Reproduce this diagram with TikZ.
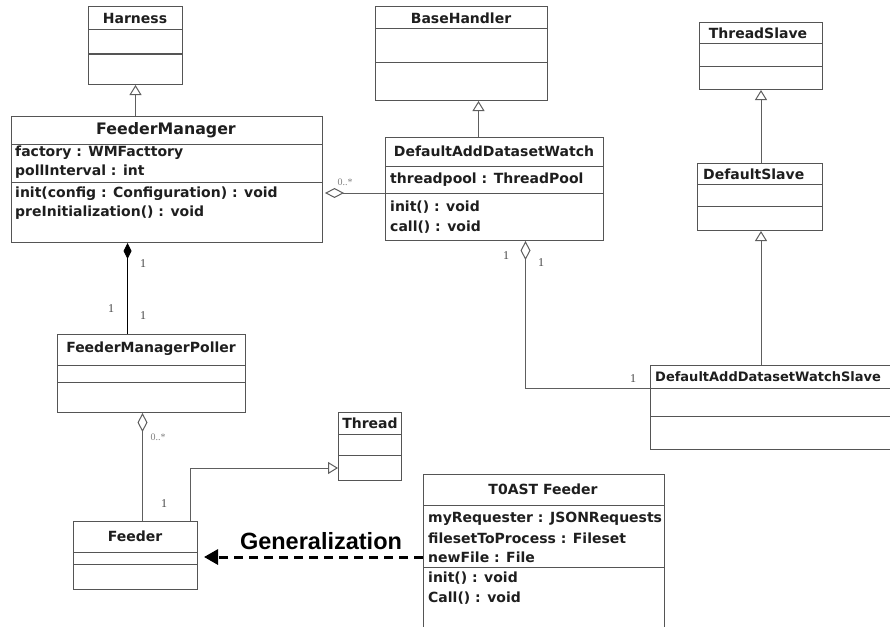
\documentclass[tikz,border=0pt]{standalone}
\usepackage{fontspec}
\setmainfont{DejaVu Sans}
\newfontfamily\labelfont{Liberation Sans}
\newfontfamily\multfont{Liberation Serif}
\usetikzlibrary{arrows.meta,calc}

\definecolor{boxgray}{HTML}{555555}
\definecolor{linegray}{HTML}{5E5E5E}
\definecolor{textdark}{HTML}{1E1E1E}
\definecolor{multgray}{HTML}{444444}

\tikzset{
  cls/.style={draw=boxgray, line width=1pt, fill=white, inner sep=0pt},
  sep/.style={draw=boxgray, line width=1pt},
  ttl/.style={font=\bfseries\fontsize{14}{16}\selectfont, text=textdark, inner sep=0pt},
  mem/.style={anchor=west, font=\bfseries\fontsize{14}{16}\selectfont, text=textdark, inner sep=0pt},
  mult/.style={font=\multfont\fontsize{12}{14}\selectfont, text=multgray, inner sep=0pt},
  many/.style={font=\multfont\fontsize{10}{11}\selectfont, text=gray, inner sep=0pt},
  gen/.style={draw=linegray, line width=1pt, -{Triangle[open, length=10pt, width=12pt, fill=white]}},
  agg/.style={draw=linegray, line width=1pt, {Diamond[open, length=19pt, width=10pt, fill=white]}-},
  comp/.style={draw=black, line width=1pt, {Diamond[length=16pt, width=8pt]}-},
  dep/.style={draw=black, line width=3pt, dash pattern=on 9pt off 6pt, -{Triangle[length=14pt, width=15pt]}, shorten >=6pt}
}

% class box: name, x, y, width, height, first and second divider below the top
\newcommand{\umlclass}[7]{%
  \node[cls, anchor=north west, minimum width=#4pt, minimum height=#5pt] (#1) at (#2,#3) {};
  \coordinate (#1-s1) at ([yshift=-#6pt]#1.north west);
  \coordinate (#1-s2) at ([yshift=-#7pt]#1.north west);
  \draw[sep] (#1-s1) -- (#1-s1 -| #1.east);
  \draw[sep] (#1-s2) -- (#1-s2 -| #1.east);
}

\begin{document}
\begin{tikzpicture}[x=1pt, y=-1pt]
  \useasboundingbox (0,0) rectangle (890,626);
  \clip (0,0) rectangle (890,626);

  % classes
  \umlclass{harness}{88}{6}{94}{78}{24}{48}
  \umlclass{fm}{11}{116}{311}{126}{28}{66}
  \umlclass{base}{375}{6}{172}{94}{23}{56}
  \umlclass{daw}{385}{137}{218}{103}{29}{56}
  \umlclass{tslave}{699}{22}{123}{67}{22}{44}
  \umlclass{dslave}{697}{163}{125}{67}{21}{43}
  \umlclass{dawslave}{650}{365}{260}{84}{23}{51}
  \umlclass{poller}{57}{334}{188}{78}{31}{48}
  \umlclass{feeder}{73}{521}{124}{68}{31}{43}
  \umlclass{thread}{338}{412}{63}{68}{22}{43}
  \umlclass{toast}{423}{474}{241}{172}{31}{93}

  % titles
  \node[ttl] (harnessT) at (135,18) {Harness};
  \node[ttl, font=\bfseries\fontsize{15.8}{18}\selectfont] (fmT) at (166,130) {FeederManager};
  \node[ttl] (baseT) at (461,18) {BaseHandler};
  \node[ttl] (dawT) at (494,151) {DefaultAddDatasetWatch};
  \node[ttl] (tslaveT) at (758,33) {ThreadSlave};
  \node[ttl, anchor=west] (dslaveT) at (703,174) {DefaultSlave};
  \node[ttl, anchor=west, font=\bfseries\fontsize{13}{15}\selectfont] (dawslaveT) at (655,377) {DefaultAddDatasetWatchSlave};
  \node[ttl] (pollerT) at (151,349) {FeederManagerPoller};
  \node[ttl] (feederT) at (135,536) {Feeder};
  \node[ttl] (threadT) at (370,423) {Thread};
  \node[ttl] (toastT) at (543,489) {T0AST Feeder};

  % members
  \node[mem] (fmA1) at (15,153) {factory : WMFacttory};
  \node[mem] (fmA2) at (15,172) {pollInterval : int};
  \node[mem] (fmM1) at (15,194) {init(config : Configuration) : void};
  \node[mem] (fmM2) at (15,213) {preInitialization() : void};
  \node[mem] (dawA1) at (390,180) {threadpool : ThreadPool};
  \node[mem] (dawM1) at (390,207) {init() : void};
  \node[mem] (dawM2) at (390,227) {call() : void};
  \node[mem] (toastA1) at (428,519) {myRequester : JSONRequests};
  \node[mem] (toastA2) at (428,538) {filesetToProcess : Fileset};
  \node[mem] (toastA3) at (428,557) {newFile : File};
  \node[mem] (toastM1) at (428,578) {init() : void};
  \node[mem] (toastM2) at (428,598) {Call() : void};

  % inheritance
  \draw[gen] (harness.south |- fm.north) -- (harness.south);
  \draw[gen] ([xshift=17pt]base.south |- daw.north) -- ([xshift=17pt]base.south);
  \draw[gen] (tslave.south |- dslave.north) -- (tslave.south);
  \draw[gen] (tslave.south |- dawslave.north) -- (tslave.south |- dslave.south);
  \draw[gen] ([xshift=-8pt]feeder.north east) |- ([yshift=13pt]thread.south west);

  % associations
  \draw[agg] ([xshift=2pt]fm.east |- daw-s2) -- (daw-s2);
  \draw[comp] ([xshift=-24pt]poller.north |- fm.south) -- ([xshift=-24pt]poller.north);
  \draw[agg] ([xshift=31pt]daw.south) |- (dawslave-s1);
  \draw[agg] ([xshift=7pt]feeder.north |- poller.south) -- ([xshift=7pt]feeder.north);

  % multiplicities
  \node[many] (m1) at (345,182) {0..*};
  \node[mult] (m2) at (143,264) {1};
  \node[mult] (m3) at (111,309) {1};
  \node[mult] (m4) at (143,316) {1};
  \node[mult] (m5) at (506,256) {1};
  \node[mult] (m6) at (541,263) {1};
  \node[mult] (m7) at (633,379) {1};
  \node[many] (m8) at (158,437) {0..*};
  \node[mult] (m9) at (164,504) {1};

  % generalization note
  \draw[dep] (toast.west |- toastA3) -- (feeder.east |- toastA3);
  \node[font=\labelfont\bfseries\fontsize{23.5}{26}\selectfont, inner sep=0pt] (genT) at (321,541) {Generalization};
\end{tikzpicture}
\end{document}
